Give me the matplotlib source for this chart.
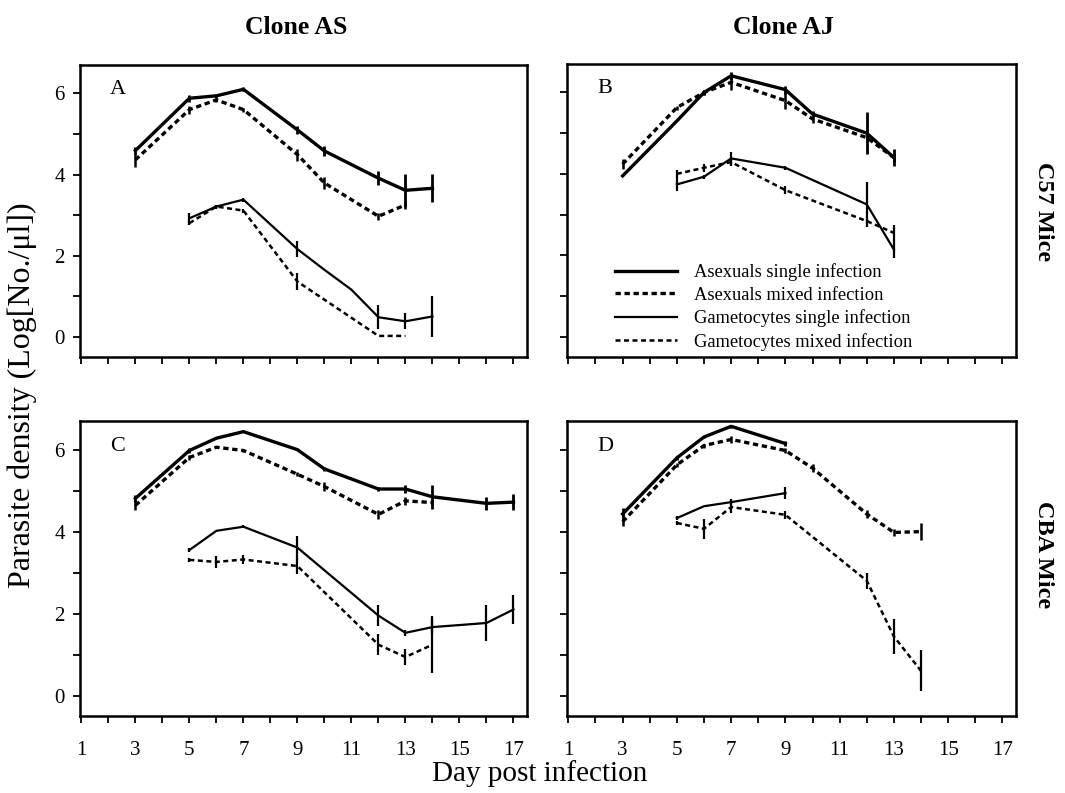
import matplotlib
matplotlib.use("Agg")
from matplotlib import pyplot as plt
from matplotlib.ticker import MultipleLocator, FixedLocator

plt.rcParams['font.family'] = ['Liberation Serif', 'DejaVu Serif']

# ---- data (day, log density, error) ----
# Panel A: clone AS, C57 mice
a_as_days = [3, 5, 6, 7, 9, 10, 12, 13, 14]
a_as_val = [4.59, 5.88, 5.94, 6.10, 5.10, 4.58, 3.91, 3.61, 3.66]
a_as_err = [0.08, 0.08, 0.05, 0.05, 0.10, 0.12, 0.18, 0.40, 0.35]
a_am_days = [3, 5, 6, 7, 9, 10, 12, 13]
a_am_val = [4.36, 5.60, 5.84, 5.60, 4.49, 3.79, 2.97, 3.25]
a_am_err = [0.18, 0.10, 0.05, 0.05, 0.15, 0.15, 0.08, 0.10]
a_gs_days = [5, 6, 7, 9, 10, 11, 12, 13, 14]
a_gs_val = [2.92, 3.21, 3.38, 2.16, 1.65, 1.16, 0.48, 0.38, 0.50]
a_gs_err = [0.12, 0.05, 0.05, 0.20, 0.0, 0.0, 0.30, 0.20, 0.50]
a_gm_days = [5, 6, 7, 9, 12, 13]
a_gm_val = [2.80, 3.21, 3.11, 1.36, 0.02, 0.02]
a_gm_err = [0.05, 0.05, 0.05, 0.22, 0.0, 0.0]

# Panel B: clone AJ, C57 mice
b_as_days = [3, 5, 6, 7, 9, 10, 12, 13]
b_as_val = [3.95, 5.30, 6.00, 6.41, 6.07, 5.47, 5.00, 4.40]
b_as_err = [0.0, 0.0, 0.05, 0.10, 0.10, 0.08, 0.52, 0.20]
b_am_days = [3, 5, 6, 7, 9, 10, 12, 13]
b_am_val = [4.24, 5.63, 6.00, 6.25, 5.80, 5.35, 4.89, 4.40]
b_am_err = [0.12, 0.05, 0.05, 0.20, 0.20, 0.10, 0.10, 0.10]
b_gs_days = [5, 6, 7, 9, 12, 13]
b_gs_val = [3.74, 3.93, 4.38, 4.15, 3.25, 2.14]
b_gs_err = [0.15, 0.05, 0.15, 0.05, 0.55, 0.20]
b_gm_days = [5, 6, 7, 9, 12, 13]
b_gm_val = [4.00, 4.15, 4.29, 3.60, 2.84, 2.55]
b_gm_err = [0.10, 0.10, 0.10, 0.10, 0.05, 0.20]

# Panel C: clone AS, CBA mice
c_as_days = [3, 5, 6, 7, 9, 10, 12, 13, 14, 16, 17]
c_as_val = [4.81, 5.98, 6.28, 6.44, 6.00, 5.53, 5.04, 5.04, 4.85, 4.69, 4.72]
c_as_err = [0.08, 0.05, 0.0, 0.0, 0.0, 0.05, 0.05, 0.10, 0.30, 0.15, 0.20]
c_am_days = [3, 5, 6, 7, 9, 10, 12, 13, 14]
c_am_val = [4.64, 5.81, 6.06, 5.98, 5.40, 5.10, 4.42, 4.75, 4.71]
c_am_err = [0.12, 0.05, 0.03, 0.03, 0.05, 0.10, 0.10, 0.10, 0.05]
c_gs_days = [5, 6, 7, 9, 12, 13, 14, 16, 17]
c_gs_val = [3.55, 4.02, 4.12, 3.61, 1.95, 1.53, 1.67, 1.77, 2.10]
c_gs_err = [0.05, 0.0, 0.03, 0.28, 0.25, 0.08, 0.20, 0.45, 0.35]
c_gm_days = [5, 6, 7, 9, 12, 13, 14]
c_gm_val = [3.31, 3.26, 3.32, 3.16, 1.24, 0.94, 1.24]
c_gm_err = [0.05, 0.15, 0.10, 0.20, 0.25, 0.20, 0.70]

# Panel D: clone AJ, CBA mice
d_as_days = [3, 5, 6, 7, 9]
d_as_val = [4.43, 5.80, 6.31, 6.57, 6.15]
d_as_err = [0.15, 0.05, 0.03, 0.03, 0.05]
d_am_days = [3, 5, 6, 7, 9, 10, 12, 13, 14]
d_am_val = [4.24, 5.63, 6.10, 6.25, 5.98, 5.55, 4.43, 3.98, 4.00]
d_am_err = [0.10, 0.05, 0.05, 0.08, 0.05, 0.10, 0.10, 0.08, 0.20]
d_gs_days = [5, 6, 7, 9]
d_gs_val = [4.33, 4.62, 4.72, 4.94]
d_gs_err = [0.05, 0.0, 0.08, 0.15]
d_gm_days = [5, 6, 7, 9, 12, 13, 14]
d_gm_val = [4.21, 4.07, 4.60, 4.41, 2.80, 1.44, 0.60]
d_gm_err = [0.05, 0.25, 0.15, 0.10, 0.20, 0.43, 0.50]

panel_letters = ['A', 'B', 'C', 'D']
col_titles = ['Clone AS', 'Clone AJ']
row_titles = ['C57 Mice', 'CBA Mice']
legend_labels = ['Asexuals single infection', 'Asexuals mixed infection',
                 'Gametocytes single infection', 'Gametocytes mixed infection']

panels = [
    [(a_as_days, a_as_val, a_as_err), (a_am_days, a_am_val, a_am_err),
     (a_gs_days, a_gs_val, a_gs_err), (a_gm_days, a_gm_val, a_gm_err)],
    [(b_as_days, b_as_val, b_as_err), (b_am_days, b_am_val, b_am_err),
     (b_gs_days, b_gs_val, b_gs_err), (b_gm_days, b_gm_val, b_gm_err)],
    [(c_as_days, c_as_val, c_as_err), (c_am_days, c_am_val, c_am_err),
     (c_gs_days, c_gs_val, c_gs_err), (c_gm_days, c_gm_val, c_gm_err)],
    [(d_as_days, d_as_val, d_as_err), (d_am_days, d_am_val, d_am_err),
     (d_gs_days, d_gs_val, d_gs_err), (d_gm_days, d_gm_val, d_gm_err)],
]

# line style for each series: (width, dash pattern, error bar width)
styles = [(2.4, '-', 2.0), (2.4, (0, (1.6, 1.1)), 1.8),
          (1.6, '-', 1.6), (1.8, (0, (2.0, 1.4)), 1.6)]

W, H = 1065, 793
fig = plt.figure(figsize=(W / 100, H / 100), dpi=100)

# axes boxes in pixels: left, top, right, bottom
boxes = [(80, 65, 527, 357), (567, 64, 1016, 357),
         (80, 421, 527, 716), (567, 421, 1016, 716)]

axes = []
for i, (l, t, r, b) in enumerate(boxes):
    ax = fig.add_axes([l / W, 1 - b / H, (r - l) / W, (b - t) / H])
    axes.append(ax)
    handles = []
    for (days, vals, errs), (lw, ls, ew) in zip(panels[i], styles):
        ax.errorbar(days, vals, yerr=errs, fmt='none', ecolor='black',
                    elinewidth=ew, capsize=0)
        ln, = ax.plot(days, vals, color='black', lw=lw, linestyle=ls)
        handles.append(ln)
    ax.set_xlim(0.95, 17.5)
    ax.set_ylim(-0.5, 6.7)
    ax.xaxis.set_major_locator(FixedLocator(range(1, 18, 2)))
    ax.xaxis.set_minor_locator(MultipleLocator(1))
    ax.yaxis.set_major_locator(FixedLocator([0, 2, 4, 6]))
    ax.yaxis.set_minor_locator(MultipleLocator(1))
    ax.tick_params(which='both', direction='out', length=5, width=1.3,
                   top=False, right=False)
    ax.tick_params(axis='x', which='major', pad=13, labelsize=15)
    ax.tick_params(axis='y', which='major', pad=6, labelsize=15)
    for s in ax.spines.values():
        s.set_linewidth(1.8)
    if i < 2:
        ax.set_xticklabels([])
    if i % 2 == 1:
        ax.set_yticklabels([])
    ax.text(0.085, 0.915, panel_letters[i], transform=ax.transAxes,
            fontsize=16, ha='center', va='center')
    if i == 1:
        ax.legend(handles, legend_labels, loc='lower left',
                  bbox_to_anchor=(0.07, -0.035), frameon=False, fontsize=13.3,
                  handlelength=3.35, handletextpad=0.95, labelspacing=0.3)

fig.text(296 / W, 1 - 28 / H, col_titles[0], fontsize=18.5, fontweight='bold',
         ha='center', va='center')
fig.text(783 / W, 1 - 28 / H, col_titles[1], fontsize=18.5, fontweight='bold',
         ha='center', va='center')
fig.text(1043 / W, 1 - 212 / H, row_titles[0], fontsize=17.5, fontweight='bold',
         ha='center', va='center', rotation=270)
fig.text(1043 / W, 1 - 555 / H, row_titles[1], fontsize=17.5, fontweight='bold',
         ha='center', va='center', rotation=270)
fig.text(22 / W, 1 - 395 / H, 'Parasite density (Log[No./\u03bcl])',
         fontsize=23, ha='center', va='center', rotation=90)
fig.text(540 / W, 1 - 774 / H, 'Day post infection', fontsize=21,
         ha='center', va='center')

fig.savefig('out.png', dpi=100)
